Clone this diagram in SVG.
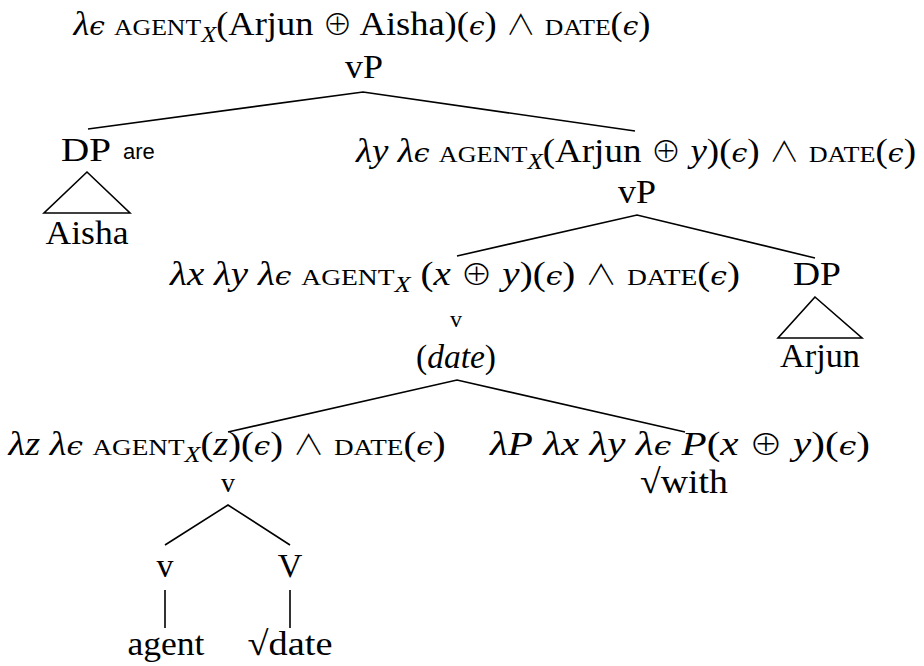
<svg xmlns="http://www.w3.org/2000/svg" width="924" height="666" viewBox="0 0 924 666">
<style>
.t{font-family:"Liberation Serif","DejaVu Serif",serif;font-size:34px;fill:#000}
.sc{font-size:24px}
.i{font-style:italic}
.g{font-family:"Liberation Serif","DejaVu Serif",serif;font-style:italic}
.ep{font-family:"DejaVu Serif",serif;font-style:italic;font-size:26px}
.m{font-family:"Noto Sans CJK JP","DejaVu Sans",sans-serif;font-weight:300;font-size:28px}
.sub{font-style:italic;font-size:23px}
.sans{font-family:"Liberation Sans",Arial,sans-serif;font-size:22px;fill:#000}
.e{stroke:#000;stroke-width:1.6;fill:none}
</style>
<rect width="924" height="666" fill="#fff"/>
<g id="connectors">
<polyline class="e" points="88,129 363,92 635,131"/>
<polygon class="e" points="87,172 44,213 130,213"/>
<polyline class="e" points="457,256 637,215 815,258"/>
<polygon class="e" points="815,297 778,338 862,338"/>
<polyline class="e" points="228,432 457,380 685,432"/>
<polyline class="e" points="165,545 228,505 290,545"/>
<line class="e" x1="165" y1="590" x2="165" y2="628"/>
<line class="e" x1="290" y1="590" x2="290" y2="628"/>
</g>
<g id="root">
<text class="t" x="362" y="35" text-anchor="middle" textLength="577" lengthAdjust="spacingAndGlyphs"><tspan class="g">λ</tspan><tspan class="ep">ϵ</tspan> <tspan class="sc">AGENT</tspan><tspan class="sub" dy="7">X</tspan><tspan dy="-7">(Arjun </tspan><tspan class="m">⊕</tspan> Aisha)(<tspan class="ep">ϵ</tspan>) <tspan class="m">∧</tspan> <tspan class="sc">DATE</tspan>(<tspan class="ep">ϵ</tspan>)</text>
<text class="t" x="364" y="78" text-anchor="middle" textLength="38" lengthAdjust="spacingAndGlyphs">vP</text>
</g>
<g id="dp-aisha">
<text class="t" x="86" y="161" text-anchor="middle" textLength="50" lengthAdjust="spacingAndGlyphs">DP</text>
<text class="sans" x="123" y="159">are</text>
<text class="t" x="87" y="244" text-anchor="middle" textLength="83" lengthAdjust="spacingAndGlyphs">Aisha</text>
</g>
<g id="vp2">
<text class="t" x="636" y="162" text-anchor="middle" textLength="560" lengthAdjust="spacingAndGlyphs"><tspan class="g">λy</tspan> <tspan class="g">λ</tspan><tspan class="ep">ϵ</tspan> <tspan class="sc">AGENT</tspan><tspan class="sub" dy="7">X</tspan><tspan dy="-7">(Arjun </tspan><tspan class="m">⊕</tspan> <tspan class="i">y</tspan>)(<tspan class="ep">ϵ</tspan>) <tspan class="m">∧</tspan> <tspan class="sc">DATE</tspan>(<tspan class="ep">ϵ</tspan>)</text>
<text class="t" x="637" y="203" text-anchor="middle" textLength="38" lengthAdjust="spacingAndGlyphs">vP</text>
</g>
<g id="v-date">
<text class="t" x="455" y="285" text-anchor="middle" textLength="570" lengthAdjust="spacingAndGlyphs"><tspan class="g">λx</tspan> <tspan class="g">λy</tspan> <tspan class="g">λ</tspan><tspan class="ep">ϵ</tspan> <tspan class="sc">AGENT</tspan><tspan class="sub" dy="7">X</tspan><tspan dy="-7"> (</tspan><tspan class="i">x</tspan> <tspan class="m">⊕</tspan>  <tspan class="i">y</tspan>)(<tspan class="ep">ϵ</tspan>) <tspan class="m">∧</tspan> <tspan class="sc">DATE</tspan>(<tspan class="ep">ϵ</tspan>)</text>
<text class="t" x="456" y="327" text-anchor="middle" style="font-size:24px">v</text>
<text class="t" x="456" y="368" text-anchor="middle" textLength="80" lengthAdjust="spacingAndGlyphs">(<tspan class="i">date</tspan>)</text>
</g>
<g id="dp-arjun">
<text class="t" x="817" y="285" text-anchor="middle" textLength="48" lengthAdjust="spacingAndGlyphs">DP</text>
<text class="t" x="820" y="367" text-anchor="middle" textLength="80" lengthAdjust="spacingAndGlyphs">Arjun</text>
</g>
<g id="v-agent">
<text class="t" x="227" y="455" text-anchor="middle" textLength="437" lengthAdjust="spacingAndGlyphs"><tspan class="g">λz</tspan> <tspan class="g">λ</tspan><tspan class="ep">ϵ</tspan> <tspan class="sc">AGENT</tspan><tspan class="sub" dy="7">X</tspan><tspan dy="-7">(</tspan><tspan class="i">z</tspan>)(<tspan class="ep">ϵ</tspan>) <tspan class="m">∧</tspan> <tspan class="sc">DATE</tspan>(<tspan class="ep">ϵ</tspan>)</text>
<text class="t" x="228" y="492" text-anchor="middle" style="font-size:28px">v</text>
</g>
<g id="with">
<text class="t" x="680" y="455" text-anchor="middle" textLength="380" lengthAdjust="spacingAndGlyphs"><tspan class="g">λP</tspan> <tspan class="g">λx</tspan> <tspan class="g">λy</tspan> <tspan class="g">λ</tspan><tspan class="ep">ϵ</tspan> <tspan class="i">P</tspan>(<tspan class="i">x</tspan> <tspan class="m">⊕</tspan>  <tspan class="i">y</tspan>)(<tspan class="ep">ϵ</tspan>)</text>
<text class="t" x="684" y="493" text-anchor="middle" textLength="88" lengthAdjust="spacingAndGlyphs">√with</text>
</g>
<g id="v-small">
<text class="t" x="165" y="577" text-anchor="middle">v</text>
<text class="t" x="166" y="655" text-anchor="middle" textLength="77" lengthAdjust="spacingAndGlyphs">agent</text>
</g>
<g id="V-big">
<text class="t" x="290" y="577" text-anchor="middle">V</text>
<text class="t" x="290" y="655" text-anchor="middle" textLength="85" lengthAdjust="spacingAndGlyphs">√date</text>
</g>
</svg>
